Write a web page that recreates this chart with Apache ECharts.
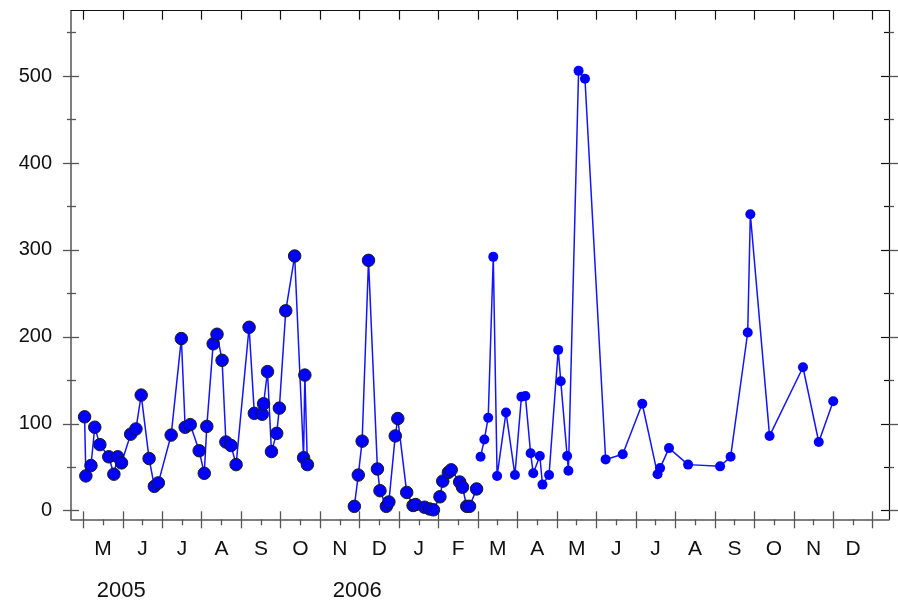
<!DOCTYPE html>
<html>
<head>
<meta charset="utf-8">
<script src="https://cdn.jsdelivr.net/npm/echarts@6/dist/echarts.min.js"></script>
<style>
  html, body { margin: 0; padding: 0; background: #fff; }
  #chart { width: 898px; height: 601px; }
</style>
</head>
<body>
<div id="chart"></div>
<script>
// ---- DATA ----
const dates2005 = ['2005-05-02','2005-05-03','2005-05-07','2005-05-10','2005-05-14','2005-05-21','2005-05-25','2005-05-28','2005-05-31',
  '2005-06-07','2005-06-11','2005-06-15','2005-06-21','2005-06-25','2005-06-28',
  '2005-07-08','2005-07-16','2005-07-19','2005-07-23','2005-07-30',
  '2005-08-03','2005-08-05','2005-08-10','2005-08-13','2005-08-17','2005-08-20','2005-08-24','2005-08-28',
  '2005-09-07','2005-09-11','2005-09-17','2005-09-18','2005-09-21','2005-09-24','2005-09-28','2005-09-30',
  '2005-10-05','2005-10-12','2005-10-19','2005-10-20','2005-10-22'];
const values2005 = [108,40,52,96,76,62,42,62,55,
  88,94,133,60,28,32,
  87,198,96,99,69,
  43,97,192,203,173,79,75,53,
  211,112,111,123,160,68,89,118,
  230,293,61,156,53];

const datesWinter = ['2005-11-27','2005-11-30','2005-12-03','2005-12-08','2005-12-15','2005-12-17','2005-12-22','2005-12-24','2005-12-29','2005-12-31',
  '2006-01-07','2006-01-12','2006-01-14','2006-01-21','2006-01-25','2006-01-28',
  '2006-02-02','2006-02-04','2006-02-08','2006-02-10','2006-02-16','2006-02-18','2006-02-21','2006-02-23','2006-02-28'];
const valuesWinter = [5,41,80,288,48,23,5,10,86,106,
  21,6,7,4,2,1,
  16,34,44,47,33,27,5,5,25];

const dates2006 = ['2006-03-03','2006-03-06','2006-03-09','2006-03-13','2006-03-16','2006-03-23','2006-03-30',
  '2006-04-04','2006-04-07','2006-04-11','2006-04-13','2006-04-18','2006-04-20','2006-04-25',
  '2006-05-02','2006-05-04','2006-05-09','2006-05-10','2006-05-18','2006-05-23',
  '2006-06-08','2006-06-21','2006-07-06','2006-07-18','2006-07-20','2006-07-27','2006-08-11',
  '2006-09-05','2006-09-13','2006-09-26','2006-09-28','2006-10-13','2006-11-08','2006-11-20','2006-12-01'];
const values2006 = [62,82,107,292,40,113,41,
  131,132,66,43,63,30,41,
  185,149,63,46,506,497,
  59,65,123,42,49,72,53,
  51,62,205,341,86,165,79,126];

const monthLetters = ['J','F','M','A','M','J','J','A','S','O','N','D'];
const yTickLabels = [0, 100, 200, 300, 400, 500];
const yMinorTicks = [50, 150, 250, 350, 450, 550];
const yearLabels = ['2005', '2006'];

// ---- helpers ----
// month position: months since Jan 2005 (each month has equal width on the axis)
function toMonthPos(s) {
  const p = s.split('-').map(Number);
  const dim = new Date(p[0], p[1], 0).getDate();
  return (p[0] - 2005) * 12 + (p[1] - 1) + (p[2] - 1) / dim;
}
function pairs(dates, vals) { return dates.map((d, i) => [toMonthPos(d), vals[i]]); }

const monthTicks = [];
for (let m = 4; m <= 24; m++) monthTicks.push(m);
const monthLabelPos = monthTicks.slice(0, -1).map(m => m + 0.5);
const yearLabelPos = [4.96, 10.94];

const xMin = 3.688, xMax = 24.413;
const yMin = -9.9, yMax = 575.2;
const FONT = 'Liberation Sans, Arial, sans-serif';
const GREY = '#555';
const DARK = '#111';

function xAx(extra) {
  return Object.assign({
    type: 'value', min: xMin, max: xMax, gridIndex: 0, position: 'bottom',
    splitLine: { show: false },
    axisLine: { show: false, onZero: false },
    axisTick: { show: false },
    axisLabel: { show: false }
  }, extra);
}
function yAx(extra) {
  return Object.assign({
    type: 'value', min: yMin, max: yMax, gridIndex: 0, position: 'left',
    splitLine: { show: false },
    axisLine: { show: false, onZero: false },
    axisTick: { show: false },
    axisLabel: { show: false }
  }, extra);
}
function ticks(vals, inside, len, color, w) {
  return { show: true, inside: inside, length: len, customValues: vals, lineStyle: { color: color, width: w || 1 } };
}

const chart = echarts.init(document.getElementById('chart'), null, { renderer: 'canvas' });
const option = {
  animation: false,
  backgroundColor: '#fff',
  grid: { left: 71, right: 9, top: 10.7, bottom: 81.7, containLabel: false, outerBoundsMode: 'none' },
  xAxis: [
    xAx({
      axisLine: { show: true, onZero: false, lineStyle: { color: GREY, width: 1.5 } },
      axisTick: ticks(monthTicks, false, 9, GREY, 1.3),
      axisLabel: {
        show: true, customValues: monthLabelPos, fontSize: 21, color: DARK, fontFamily: FONT, margin: 19.5,
        formatter: v => monthLetters[Math.floor(v + 1e-6) % 12]
      }
    }),
    xAx({ axisTick: ticks(monthTicks, true, 8, GREY, 1.3) }),
    xAx({ axisTick: ticks(monthLabelPos, false, 6, GREY, 1.3) }),
    xAx({
      position: 'top',
      axisLine: { show: true, onZero: false, lineStyle: { color: DARK, width: 1.2 } },
      axisTick: ticks(monthTicks, true, 9, DARK, 1.2)
    }),
    xAx({
      axisLabel: {
        show: true, customValues: yearLabelPos, fontSize: 22, color: DARK, fontFamily: FONT, margin: 61,
        formatter: v => {
          let best = 0;
          yearLabelPos.forEach((p, i) => { if (Math.abs(p - v) < Math.abs(yearLabelPos[best] - v)) best = i; });
          return yearLabels[best];
        }
      }
    })
  ],
  yAxis: [
    yAx({
      axisLine: { show: true, onZero: false, lineStyle: { color: GREY, width: 1.5 } },
      axisTick: ticks(yTickLabels, false, 8, GREY, 1.3),
      axisLabel: { show: true, customValues: yTickLabels, fontSize: 20, color: DARK, fontFamily: FONT, margin: 19 }
    }),
    yAx({ axisTick: ticks(yTickLabels, true, 8, GREY, 1.3) }),
    yAx({ axisTick: ticks(yMinorTicks, false, 4, GREY, 1.3) }),
    yAx({ axisTick: ticks(yMinorTicks, true, 5, GREY, 1.3) }),
    yAx({
      position: 'right',
      axisLine: { show: true, onZero: false, lineStyle: { color: DARK, width: 1.2 } },
      axisTick: ticks(yTickLabels, true, 8, DARK, 1.2)
    }),
    yAx({ position: 'right', axisTick: ticks(yTickLabels, false, 9, GREY, 1.3) }),
    yAx({ position: 'right', axisTick: ticks(yMinorTicks, true, 5, DARK, 1.2) }),
    yAx({ position: 'right', axisTick: ticks(yMinorTicks, false, 5, GREY, 1.3) })
  ],
  series: [
    {
      type: 'line', xAxisIndex: 0, yAxisIndex: 0, data: pairs(dates2005, values2005),
      symbol: 'circle', symbolSize: 12.5, clip: false,
      lineStyle: { color: '#1414ff', width: 1.5 },
      itemStyle: { color: '#0000ff', borderColor: '#1a1a1a', borderWidth: 1 }
    },
    {
      type: 'line', xAxisIndex: 0, yAxisIndex: 0, data: pairs(datesWinter, valuesWinter),
      symbol: 'circle', symbolSize: 12.5, clip: false,
      lineStyle: { color: '#1414ff', width: 1.5 },
      itemStyle: { color: '#0000ff', borderColor: '#1a1a1a', borderWidth: 1 }
    },
    {
      type: 'line', xAxisIndex: 0, yAxisIndex: 0, data: pairs(dates2006, values2006),
      symbol: 'circle', symbolSize: 10, clip: false,
      lineStyle: { color: '#1414ff', width: 1.5 },
      itemStyle: { color: '#0000ff', borderWidth: 0 }
    }
  ]
};
chart.setOption(option);
</script>
</body>
</html>
